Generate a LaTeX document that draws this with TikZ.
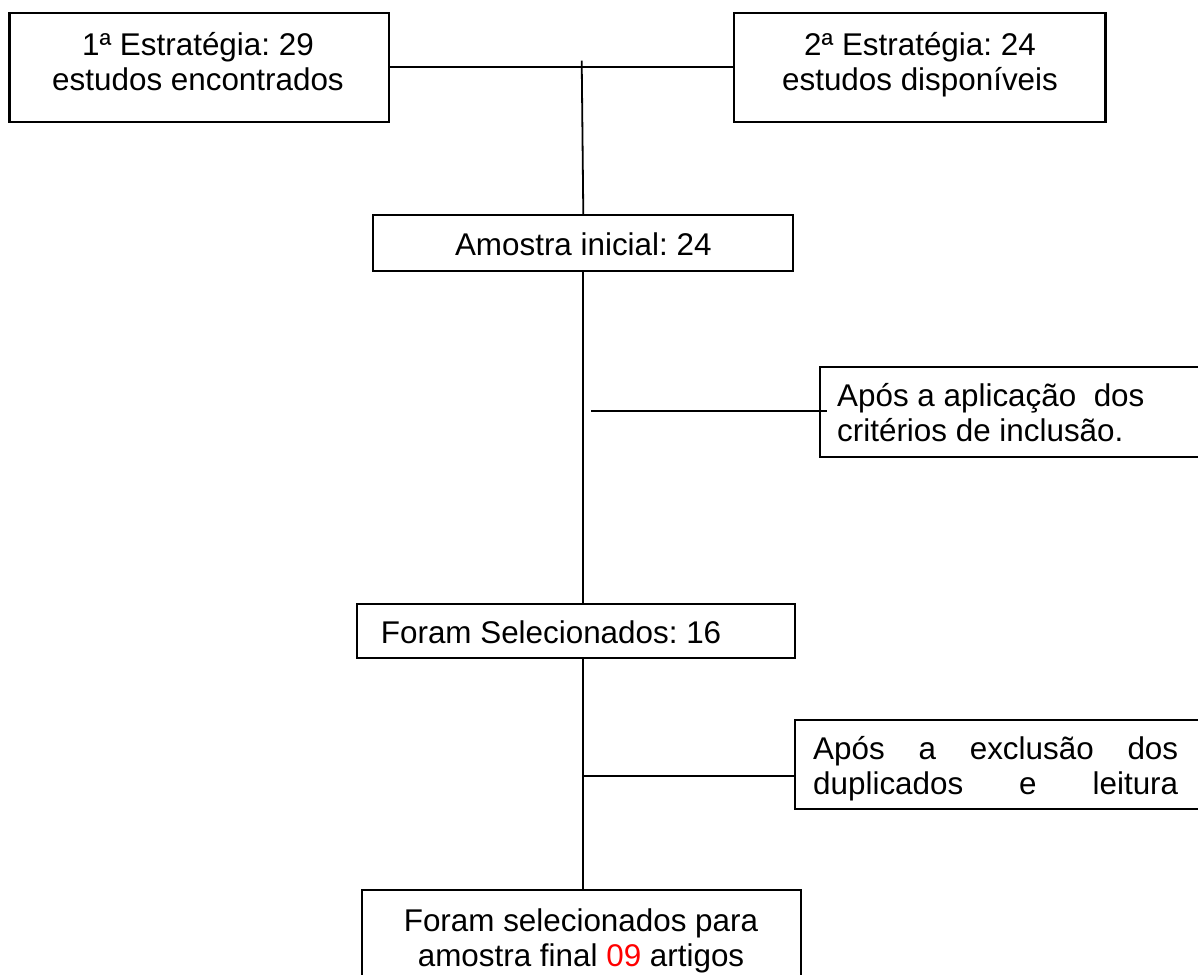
\documentclass[tikz,border=0pt]{standalone}
\usepackage{fontspec}
\setmainfont{Liberation Sans}
\usetikzlibrary{calc}
\frenchspacing
\begin{document}
\begin{tikzpicture}[x=1pt,y=-1pt,
  box/.style={draw,rectangle,line width=2.2pt,inner sep=0pt},
  txt/.style={inner sep=0pt,font=\fontsize{31.4}{35}\selectfont},
  conn/.style={draw,line width=1.8pt}]
\useasboundingbox (0,0) rectangle (1198,974);
\clip (0,0) rectangle (1198,974);
% boxes
\node[box,minimum width=379.7pt,minimum height=109pt] (b1) at (199.3,67.2) {};
\node[box,minimum width=371.5pt,minimum height=109pt] (b2) at (919.75,67.2) {};
\node[box,minimum width=420pt,minimum height=55.7pt] (am) at (583.3,242.85) {};
\node[box,minimum width=420pt,minimum height=90pt] (b3) at (1030,412) {};
\node[box,minimum width=437.7pt,minimum height=54pt] (fs) at (576.15,631) {};
\node[box,minimum width=420pt,minimum height=89pt] (b4) at (1005,764.5) {};
\node[box,minimum width=439pt,minimum height=120pt] (fin) at (581.5,950) {};
% texts (base anchor = baseline of the last line)
\node[txt,anchor=base,align=center] (t1) at (198,90) {1ª Estratégia: 29\\estudos encontrados};
\node[txt,anchor=base,align=center] (t2) at (920,90) {2ª Estratégia: 24\\estudos disponíveis};
\node[txt,anchor=base] (tam) at (583.3,255.7) {Amostra inicial: 24};
\node[txt,anchor=base west,align=left] (t3) at (837,441) {Após a aplicação\ \ dos\\critérios de inclusão.};
\node[txt,anchor=base west] (tfs) at (380.7,643.3) {Foram Selecionados: 16};
\node[txt,anchor=base west,align=left] (t4) at (813,794.5) {\hbox to 365pt{Após\hfill a\hfill exclusão\hfill dos}\\\hbox to 365pt{duplicados\hfill e\hfill leitura}};
\node[txt,anchor=base,align=center] (tfin) at (581,966.7) {Foram selecionados para\\amostra final \textcolor{red}{09} artigos};
% connectors
\coordinate (j) at (581.7,60.7);
\coordinate (c3) at (591,411);
\coordinate (c4) at (583.3,776);
\draw[conn] (b1.east) -- (b2.west);
\draw[conn] (j) -- (am.north);
\draw[conn] (am.south) -- (am.south |- fs.north);
\draw[conn] (c3) -- ($(b3.west |- c3)+(8,0)$);
\draw[conn] (am.south |- fs.south) -- (am.south |- fin.north);
\draw[conn] (c4) -- (c4 -| b4.west);
\end{tikzpicture}
\end{document}
